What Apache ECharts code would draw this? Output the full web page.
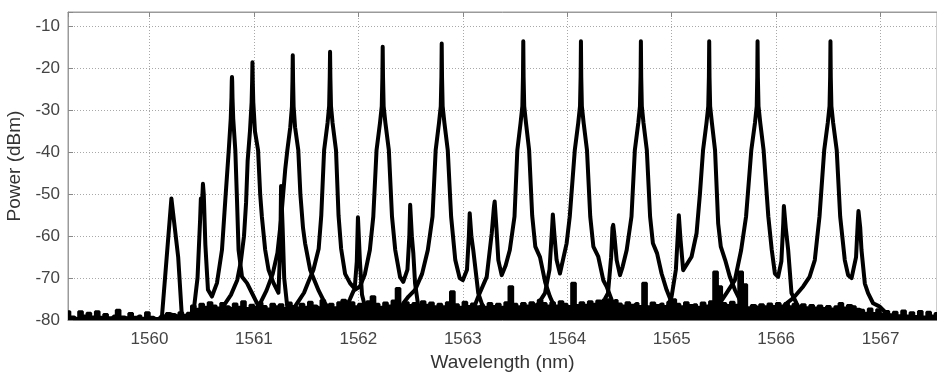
<!DOCTYPE html>
<html>
<head>
<meta charset="utf-8">
<script src="https://cdn.jsdelivr.net/npm/echarts@6/dist/echarts.min.js"></script>
<style>
html,body{margin:0;padding:0;background:#fff;}
#chart{width:937px;height:373px;}
</style>
</head>
<body>
<div id="chart"></div>
<script>
// ---- axis ranges / tick labels ----
const xMin = 1559.22, xMax = 1567.54;
const yMin = -80, yMax = -6.5;
const xTickLabels = [1560, 1561, 1562, 1563, 1564, 1565, 1566, 1567];
const yTickLabels = [-80, -70, -60, -50, -40, -30, -20, -10];

// ---- noise floor (wavelength = floorStart + i*floorStep), dBm ----
const floorStart = 1559.22, floorStep = 0.04;
const floorValues = [
  -78.0,-79.2,-79.6,-78.0,-79.0,-78.3,-79.2,-78.0,-79.3,-78.6,
  -79.4,-79.0,-77.6,-79.2,-79.4,-78.4,-79.3,-79.0,-79.5,-78.2,
  -79.3,-79.6,-79.6,-78.9,-78.4,-78.6,-78.9,-78.2,-78.8,-78.3,
  -76.6,-77.4,-76.2,-76.9,-75.8,-76.6,-77.1,-76.0,-76.8,-77.2,
  -76.1,-76.9,-75.6,-77.2,-76.4,-76.9,-75.9,-76.7,-77.3,-76.2,
  -76.8,-76.3,-77.2,-75.9,-76.7,-77.1,-76.2,-76.9,-75.7,-76.6,
  -77.0,-75.3,-76.7,-76.2,-77.0,-75.8,-75.2,-76.4,-75.8,-76.8,
  -76.2,-76.9,-75.6,-74.4,-76.2,-76.9,-75.9,-76.6,-75.4,-72.4,
  -76.9,-75.8,-76.5,-76.0,-76.9,-75.6,-76.4,-75.9,-76.8,-76.2,
  -76.8,-75.8,-73.2,-76.3,-76.9,-75.7,-76.7,-76.1,-76.8,-76.4,
  -76.9,-76.0,-76.7,-76.2,-76.9,-75.8,-72.0,-76.2,-76.8,-76.0,
  -76.6,-75.8,-76.3,-75.2,-76.0,-76.6,-75.8,-76.6,-75.6,-76.2,
  -76.7,-71.2,-76.5,-75.8,-76.4,-75.6,-76.2,-75.4,-76.0,-75.1,
  -75.7,-75.3,-76.1,-76.6,-75.8,-76.4,-76.0,-76.7,-71.2,-76.8,
  -75.9,-76.5,-76.1,-76.7,-75.7,-75.1,-76.2,-76.8,-75.8,-76.5,
  -76.3,-76.9,-75.9,-76.6,-75.6,-68.5,-72.0,-76.0,-76.5,-75.7,
  -76.4,-68.5,-71.5,-77.0,-76.5,-76.9,-76.3,-76.8,-76.1,-76.7,
  -76.0,-76.6,-76.0,-76.8,-76.2,-76.9,-76.3,-77.0,-76.5,-77.1,
  -76.6,-77.2,-76.7,-77.3,-76.8,-76.0,-77.1,-76.5,-76.8,-77.4,
  -77.6,-78.3,-77.3,-78.4,-77.5,-78.5,-77.9,-78.7,-78.1,-78.9,
  -77.8,-79.0,-78.2,-79.1,-77.9,-79.2,-78.1,-79.0,-78.4
];

// ---- laser traces: [wavelength nm, power dBm] ----
const trace1 = [[1560.10,-79.5],[1560.12,-79],[1560.165,-65],[1560.21,-51],[1560.228,-51],[1560.275,-65],[1560.31,-79],[1560.34,-79.5],
  [1560.40,-79.3],[1560.42,-78.5],[1560.46,-70],[1560.485,-56],[1560.492,-51],[1560.50,-54],[1560.512,-47.5],[1560.52,-50],[1560.535,-62],
  [1560.56,-72.8],[1560.598,-74.4],[1560.646,-71.2],[1560.694,-63.3],[1560.726,-51.4],[1560.759,-39.5],[1560.778,-32],[1560.785,-27],
  [1560.788,-23],[1560.79,-22],[1560.792,-23],[1560.795,-27],[1560.802,-32],[1560.822,-39.5],[1560.838,-51.4],[1560.853,-63.3],
  [1560.886,-69.7],[1560.934,-71.2],[1560.98,-73.5],[1561.04,-76.5],[1561.10,-79]];
const trace2 = [[1560.62,-79],[1560.70,-77],[1560.78,-74],[1560.84,-70.5],[1560.875,-66],[1560.905,-60],[1560.925,-52],[1560.94,-42],[1560.962,-35],
  [1560.978,-28],[1560.983,-23],[1560.986,-18.5],[1560.989,-23],[1560.994,-28],[1561.01,-35],[1561.04,-39.5],[1561.06,-50],[1561.076,-55.3],
  [1561.108,-63.3],[1561.14,-68],[1561.188,-71.2],[1561.235,-73.5],[1561.253,-62],[1561.26,-48],[1561.268,-48],[1561.275,-58],[1561.29,-70],[1561.32,-77],[1561.38,-79.5]];
const trace3 = [[1560.98,-79],[1561.05,-76.5],[1561.12,-73],[1561.18,-69],[1561.225,-64],[1561.26,-56],[1561.30,-44],[1561.32,-39.5],[1561.348,-34],
  [1561.364,-29],[1561.369,-23],[1561.372,-16.8],[1561.375,-23],[1561.38,-29],[1561.394,-34],[1561.425,-39.5],[1561.445,-50],[1561.47,-58],
  [1561.49,-61.7],[1561.538,-68],[1561.57,-70],[1561.62,-73],[1561.68,-76],[1561.75,-78.5],[1561.82,-79.5]];
const trace4 = [[1561.36,-78],[1561.44,-75],[1561.48,-73.5],[1561.52,-71],[1561.57,-68],[1561.62,-63],[1561.645,-55],[1561.672,-39.5],[1561.705,-33],
  [1561.72,-29],[1561.726,-22],[1561.729,-16],[1561.732,-22],[1561.738,-29],[1561.753,-33],[1561.786,-39.5],[1561.81,-55],[1561.835,-63],
  [1561.873,-69],[1561.92,-71.2],[1561.965,-72.5],[1561.985,-66],[1561.996,-55.5],[1562.004,-55.5],[1562.015,-66],[1562.035,-74],[1562.07,-77.5],[1562.12,-79]];
const trace5 = [[1561.84,-79],[1561.92,-75],[1561.955,-73],[1562.015,-72],[1562.063,-69],[1562.11,-63.3],[1562.143,-55.3],[1562.174,-39.5],
  [1562.207,-33],[1562.224,-29],[1562.23,-22],[1562.233,-14.8],[1562.236,-22],[1562.242,-29],[1562.259,-33],[1562.292,-39.5],[1562.322,-55.3],
  [1562.353,-63.3],[1562.399,-69.7],[1562.43,-70.9],[1562.47,-68],[1562.488,-60],[1562.496,-52.5],[1562.503,-52.5],[1562.512,-60],
  [1562.526,-64],[1562.543,-71.3],[1562.574,-76.8],[1562.63,-79]];
const trace6 = [[1562.38,-79],[1562.43,-76],[1562.48,-74.4],[1562.543,-72.8],[1562.61,-69],[1562.665,-63.3],[1562.71,-55.3],[1562.74,-39.5],
  [1562.772,-33],[1562.789,-29],[1562.795,-22],[1562.798,-14],[1562.801,-22],[1562.807,-29],[1562.824,-33],[1562.856,-39.5],[1562.888,-55.3],
  [1562.928,-65.7],[1562.97,-70],[1563.0,-70.5],[1563.04,-68],[1563.058,-60],[1563.066,-54.5],[1563.074,-54.5],[1563.082,-60],[1563.10,-63.3],
  [1563.148,-73.6],[1563.18,-76],[1563.24,-79]];
const trace7 = [[1563.05,-79],[1563.10,-77.5],[1563.148,-74.4],[1563.229,-69.7],[1563.277,-59.3],[1563.298,-53],[1563.305,-51.7],[1563.313,-52],
  [1563.322,-58],[1563.34,-65.7],[1563.372,-69.3],[1563.41,-67],[1563.45,-63.3],[1563.495,-55.3],[1563.522,-39.5],[1563.553,-33],[1563.57,-29],
  [1563.576,-22],[1563.579,-13.5],[1563.582,-22],[1563.588,-29],[1563.605,-33],[1563.635,-39.5],[1563.664,-55],[1563.694,-62.5],[1563.739,-65],
  [1563.789,-71],[1563.834,-74.4],[1563.88,-77],[1563.95,-79]];
const trace8 = [[1563.62,-79],[1563.70,-77],[1563.787,-73.6],[1563.83,-68],[1563.855,-58],[1563.862,-54.8],[1563.87,-54.8],[1563.878,-60],
  [1563.898,-65.7],[1563.93,-68.9],[1563.994,-61.7],[1564.024,-55.3],[1564.072,-39.5],[1564.105,-33],[1564.122,-29],[1564.128,-22],[1564.131,-13.5],
  [1564.134,-22],[1564.14,-29],[1564.157,-33],[1564.189,-39.5],[1564.22,-55.3],[1564.25,-62.5],[1564.297,-64.9],[1564.345,-70.5],
  [1564.377,-72],[1564.43,-75.5],[1564.50,-78],[1564.58,-79]];
const trace9 = [[1564.20,-79],[1564.28,-77],[1564.36,-75],[1564.39,-73.6],[1564.42,-65],[1564.433,-58],[1564.44,-57.3],[1564.448,-59],
  [1564.473,-65.7],[1564.505,-69.3],[1564.53,-67.3],[1564.569,-63.3],[1564.615,-55.3],[1564.647,-39.5],[1564.68,-33],[1564.696,-29],
  [1564.702,-22],[1564.705,-13.5],[1564.708,-22],[1564.714,-29],[1564.73,-33],[1564.762,-39.5],[1564.793,-55.3],[1564.82,-61.7],
  [1564.86,-64.1],[1564.903,-68.9],[1564.951,-72.8],[1564.983,-74.8],[1565.04,-77.5],[1565.10,-79]];
const trace10 = [[1564.90,-79],[1564.96,-77],[1564.999,-74.4],[1565.04,-68],[1565.062,-58],[1565.068,-55],[1565.076,-55],[1565.085,-61],
  [1565.11,-68.1],[1565.19,-64.9],[1565.238,-59.3],[1565.27,-50],[1565.30,-39.5],[1565.333,-33],[1565.35,-29],[1565.356,-22],[1565.359,-13.5],
  [1565.362,-22],[1565.368,-29],[1565.385,-33],[1565.415,-39.5],[1565.445,-57],[1565.47,-62.5],[1565.512,-65.7],[1565.557,-69.7],
  [1565.605,-72.8],[1565.669,-76],[1565.717,-78.8],[1565.78,-79.5]];
const trace11 = [[1565.38,-79],[1565.461,-76],[1565.525,-73.6],[1565.605,-70.5],[1565.665,-63.3],[1565.712,-55.3],[1565.762,-39.5],[1565.797,-33],
  [1565.814,-29],[1565.819,-22],[1565.822,-13.5],[1565.825,-22],[1565.831,-29],[1565.848,-33],[1565.88,-39.5],[1565.925,-55.3],[1565.958,-63.3],
  [1565.988,-68.9],[1566.019,-69.7],[1566.05,-66],[1566.068,-57],[1566.074,-52.8],[1566.082,-52.8],[1566.092,-58],[1566.115,-63.3],
  [1566.147,-73.6],[1566.195,-76],[1566.26,-79]];
const trace12 = [[1566.00,-79],[1566.10,-76],[1566.163,-74.8],[1566.259,-72],[1566.32,-69.7],[1566.37,-65.7],[1566.415,-55.3],[1566.46,-39.5],
  [1566.494,-33],[1566.511,-29],[1566.517,-22],[1566.52,-13.5],[1566.523,-22],[1566.529,-29],[1566.546,-33],[1566.58,-39.5],[1566.613,-55.3],
  [1566.657,-65.7],[1566.689,-69.3],[1566.722,-70],[1566.765,-65],[1566.783,-56],[1566.788,-54],[1566.796,-54],[1566.805,-58],[1566.817,-63.3],
  [1566.849,-71.3],[1566.88,-73.6],[1566.928,-76],[1566.992,-76.8],[1567.06,-78.5],[1567.12,-79.5]];

const traces = [trace1, trace2, trace3, trace4, trace5, trace6, trace7, trace8, trace9, trace10, trace11, trace12];

// ---- build ----
const floorData = [];
for (let i = 0; i < floorValues.length; i++) {
  const x = +(floorStart + i * floorStep).toFixed(3);
  if (x <= xMax + 1e-9) floorData.push([x, floorValues[i]]);
}

const FONT = 'Liberation Sans, Arial, sans-serif';
const series = [{
  type: 'line', data: floorData, step: 'middle', showSymbol: false, symbol: 'none',
  lineStyle: { color: '#000', width: 2.5 }, areaStyle: { color: '#000', opacity: 1, origin: 'start' },
  z: 2, silent: true
}];
traces.forEach(t => series.push({
  type: 'line', data: t, showSymbol: false, symbol: 'none',
  lineStyle: { color: '#000', width: 4, join: 'round', cap: 'round' }, z: 3, silent: true
}));

const fmtX = v => (xTickLabels.indexOf(Math.round(v * 1000) / 1000) >= 0 ? String(v) : '');
const fmtY = v => (yTickLabels.indexOf(Math.round(v * 1000) / 1000) >= 0 ? String(v) : '');

const chart = echarts.init(document.getElementById('chart'), null, { renderer: 'canvas' });
chart.setOption({
  animation: false,
  backgroundColor: '#fff',
  grid: { left: 68, right: 0, top: 12, bottom: 53, show: true, borderColor: '#9a9a9a', borderWidth: 1,
          containLabel: false, outerBoundsMode: 'none' },
  xAxis: [{
    type: 'value', min: xMin, max: xMax, splitNumber: 8, position: 'bottom',
    name: 'Wavelength (nm)', nameLocation: 'middle', nameGap: 31,
    nameTextStyle: { fontFamily: FONT, fontSize: 19, color: '#333' },
    axisLine: { lineStyle: { color: '#777', width: 1 } },
    axisTick: { inside: true, length: 5, lineStyle: { color: '#888' } },
    axisLabel: { formatter: fmtX, fontFamily: FONT, fontSize: 17, color: '#444', margin: 11 },
    splitLine: { show: true, lineStyle: { color: '#a8a8a8', type: [1, 2], width: 1 } }
  }, {
    type: 'value', min: xMin, max: xMax, splitNumber: 8, position: 'top',
    axisLine: { lineStyle: { color: '#9a9a9a', width: 1 } },
    axisTick: { inside: true, length: 5, lineStyle: { color: '#888' } },
    axisLabel: { show: false }, splitLine: { show: false }
  }],
  yAxis: [{
    type: 'value', min: yMin, max: yMax, interval: 10,
    name: 'Power (dBm)', nameLocation: 'middle', nameGap: 37,
    nameTextStyle: { fontFamily: FONT, fontSize: 19, color: '#333' },
    axisLine: { show: true, lineStyle: { color: '#9a9a9a', width: 1 } },
    axisTick: { show: true, inside: true, length: 5, lineStyle: { color: '#888' } },
    axisLabel: { formatter: fmtY, fontFamily: FONT, fontSize: 17, color: '#444', margin: 8 },
    splitLine: { show: true, lineStyle: { color: '#a8a8a8', type: [1, 2], width: 1 } }
  }],
  series: series
});
</script>
</body>
</html>
